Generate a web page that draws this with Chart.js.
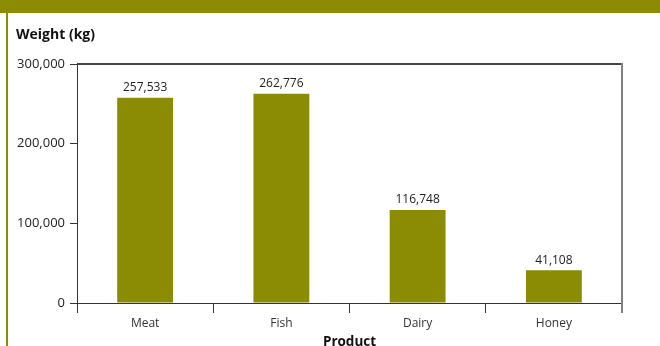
<!DOCTYPE html>
<html>
<head>
<meta charset="utf-8">
<script src="https://cdn.jsdelivr.net/npm/chart.js@4.4.1/dist/chart.umd.min.js"></script>
<style>
  html, body { margin: 0; padding: 0; width: 660px; height: 346px; overflow: hidden; background: #fff; }
  #wrap { position: absolute; left: 0; top: 0; width: 660px; height: 360px; }
  #band { position: absolute; left: 0; top: 0; width: 660px; height: 13px; background: #8b8c04; }
  #rule { position: absolute; left: 6px; top: 13px; width: 2px; height: 333px; background: #8b8c04; }
</style>
</head>
<body>
<div id="wrap"><canvas id="c" width="660" height="360"></canvas></div>
<div id="band"></div>
<div id="rule"></div>
<script>
const categories = ['Meat', 'Fish', 'Dairy', 'Honey'];
const weights = [257533, 262776, 116748, 41108];
const yTicks = [0, 100000, 200000, 300000];

const FONT = '"Open Sans", "Noto Sans", sans-serif';
const OLIVE = '#8b8c04';
const fmt = v => Number(v).toLocaleString('en-US');

Chart.defaults.font.family = FONT;

// Value printed above each bar
const valueLabels = {
  id: 'valueLabels',
  afterDatasetsDraw(chart) {
    const ctx = chart.ctx;
    const meta = chart.getDatasetMeta(0);
    ctx.save();
    ctx.font = '12px ' + FONT;
    ctx.fillStyle = '#222';
    ctx.textAlign = 'center';
    ctx.textBaseline = 'bottom';
    meta.data.forEach((bar, i) => {
      ctx.fillText(fmt(weights[i]), bar.x, bar.y - 4);
    });
    ctx.restore();
  }
};

// Top and right edges of the plot frame
const frame = {
  id: 'frame',
  afterDraw(chart) {
    const { left, right, top, bottom } = chart.chartArea;
    const ctx = chart.ctx;
    ctx.save();
    ctx.lineWidth = 2;
    ctx.strokeStyle = '#444';
    ctx.beginPath();
    ctx.moveTo(left, top);
    ctx.lineTo(right, top);
    ctx.stroke();
    ctx.strokeStyle = '#808080';
    ctx.beginPath();
    ctx.moveTo(right, top - 1);
    ctx.lineTo(right, bottom + 10);
    ctx.stroke();
    ctx.restore();
  }
};

new Chart(document.getElementById('c'), {
  type: 'bar',
  data: {
    labels: categories,
    datasets: [{
      data: weights,
      backgroundColor: OLIVE,
      borderWidth: 0,
      categoryPercentage: 1,
      barPercentage: 0.41
    }]
  },
  options: {
    responsive: false,
    animation: false,
    layout: { padding: { left: 16, right: 38, top: 13, bottom: 0 } },
    plugins: {
      legend: { display: false },
      tooltip: { enabled: false },
      title: {
        display: true,
        text: 'Weight (kg)',
        align: 'start',
        color: '#111',
        font: { size: 14, weight: 'bold' },
        padding: { top: 13.6, bottom: 20.6 }
      }
    },
    scales: {
      x: {
        type: 'category',
        offset: true,
        grid: { offset: true, drawOnChartArea: false, tickLength: 10, color: '#333', lineWidth: 1 },
        border: { display: true, color: '#333', width: 1 },
        ticks: { color: '#333', font: { size: 12 }, padding: 3 },
        title: {
          display: true,
          text: 'Product',
          color: '#111',
          font: { size: 13.5, weight: 'bold' },
          padding: { top: 0, bottom: 10 }
        },
        afterFit: s => { s.height = 57; }
      },
      y: {
        type: 'linear',
        min: 0,
        max: 300000,
        afterBuildTicks: s => { s.ticks = yTicks.map(v => ({ value: v })); },
        grid: { drawOnChartArea: false, tickLength: 7, color: '#333', lineWidth: 1 },
        border: { display: true, color: '#333', width: 1 },
        ticks: { color: '#222', font: { size: 13 }, padding: 5, callback: v => fmt(v) },
        afterFit: s => { s.width = 61; }
      }
    }
  },
  plugins: [valueLabels, frame]
});
</script>
</body>
</html>
